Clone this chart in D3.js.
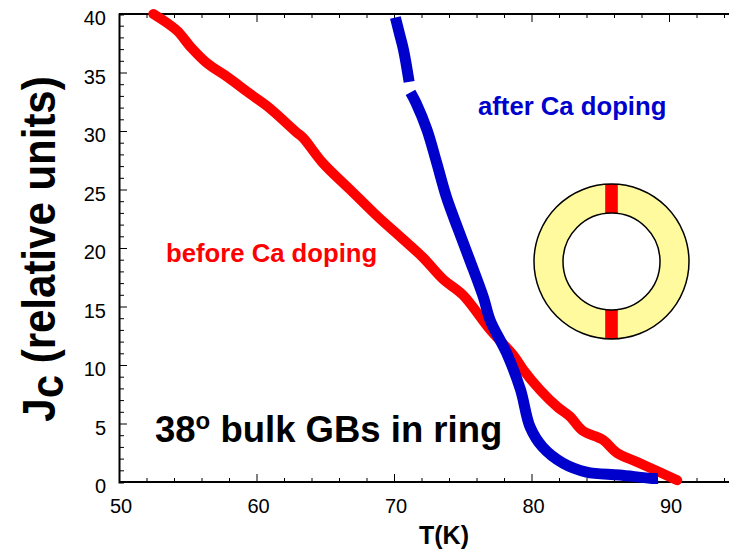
<!DOCTYPE html>
<html>
<head>
<meta charset="utf-8">
<script src="https://cdn.jsdelivr.net/npm/d3@7"></script>
<style>
  html, body { margin: 0; padding: 0; background: #fff; }
  svg { display: block; font-family: "Liberation Sans", Arial, sans-serif; }
</style>
</head>
<body>
<svg id="chart" width="729" height="551"></svg>
<script>
// Critical current density vs temperature for a ring with 38° bulk grain boundaries
const beforeT = [52.5, 54.2, 55.2, 56.4, 57.9, 59.5, 60.8, 62.9, 63.4, 64.8, 66.8, 68.8, 70.7, 72.1, 73.6, 75.0, 77.0, 78.7, 79.4, 80.6, 81.9, 82.8, 83.7, 85.2, 86.2, 87.7, 89.3, 90.6];
const beforeJ = [40.0, 38.6, 37.2, 35.8, 34.6, 33.2, 32.1, 29.9, 29.4, 27.3, 25.0, 22.7, 20.7, 19.2, 17.3, 16.0, 13.0, 10.8, 9.6, 7.9, 6.4, 5.6, 4.4, 3.6, 2.5, 1.7, 0.85, 0.15];

// after doping: measured in two runs, with a short gap near 34
const afterT1 = [70.1, 70.4, 70.7, 71.1];
const afterJ1 = [39.7, 38.3, 36.9, 34.2];
const afterT2 = [71.2, 71.6, 72.4, 73.1, 73.8, 74.6, 75.5, 76.5, 77.0, 78.2, 79.2, 79.9, 80.8, 82.3, 84.0, 86.4, 88.8, 89.2];
const afterJ2 = [33.3, 32.4, 30.1, 27.3, 24.4, 21.8, 19.0, 15.8, 13.8, 11.0, 7.9, 4.7, 3.0, 1.6, 0.85, 0.6, 0.3, 0.3];

const xMajor = [50, 60, 70, 80, 90];
const yMajor = [0, 5, 10, 15, 20, 25, 30, 35, 40];

const svg = d3.select("#chart");
const padLeft = 119, padTop = 14, axisBottomY = 482;
const x = d3.scaleLinear().domain([50, 95]).range([padLeft, padLeft + 45 * 13.75]);
const y = d3.scaleLinear().domain([0, 40]).range([axisBottomY, padTop]);

// axes: ticks point into the plot
const xAxisB = d3.axisBottom(x).tickValues(d3.range(50, 96, 2)).tickSize(-4).tickFormat(() => "");
const xAxisT = d3.axisTop(x).tickValues(d3.range(50, 96, 2)).tickSize(-4).tickFormat(() => "");
const yAxis = d3.axisLeft(y).tickValues(d3.range(0, 41, 1)).tickSize(-5).tickFormat(() => "");

function styleAxis(g) {
  g.select(".domain").attr("stroke", "#000").attr("stroke-width", 2);
  g.selectAll(".tick line").attr("stroke", "#000").attr("stroke-width", 1);
}
const gB = svg.append("g").attr("transform", `translate(0,${axisBottomY})`).call(xAxisB).call(styleAxis);
gB.selectAll(".tick line").filter(d => d % 10 === 0).attr("y2", -8);
const gT = svg.append("g").attr("transform", `translate(0,${padTop})`).call(xAxisT).call(styleAxis);
gT.selectAll(".tick line").filter(d => d % 10 === 0).attr("y2", 8);
const gL = svg.append("g").attr("transform", `translate(${padLeft},0)`).call(yAxis).call(styleAxis);
gL.selectAll(".tick line").filter(d => d % 5 === 0).attr("x2", 8);
gB.select(".domain").attr("d", `M${padLeft},0H729`);
gT.select(".domain").attr("d", `M${padLeft},0H729`);

// tick labels
svg.append("g").selectAll("text").data(xMajor).join("text")
  .attr("x", d => x(d) + 2).attr("y", axisBottomY + 31)
  .attr("text-anchor", "middle").attr("font-size", 20).text(d => d);
svg.append("g").selectAll("text").data(yMajor).join("text")
  .attr("x", 106).attr("y", d => y(d) + 11)
  .attr("text-anchor", "end").attr("font-size", 20).text(d => d);

// axis titles
svg.append("text").attr("x", 444).attr("y", 544)
  .attr("text-anchor", "middle").attr("font-size", 25).attr("font-weight", "bold").text("T(K)");
const yt = svg.append("text").attr("transform", `translate(55,249) rotate(-90) scale(1,1.08)`)
  .attr("text-anchor", "middle").attr("font-weight", "bold").attr("font-size", 42);
yt.append("tspan").text("J");
yt.append("tspan").attr("dy", 7).text("c");
yt.append("tspan").attr("dy", -7).text(" (relative units)");

// curves
const line = d3.line().x(d => x(d[0])).y(d => y(d[1])).curve(d3.curveCatmullRom.alpha(0.5));
svg.append("path").datum(beforeT.map((t, i) => [t, beforeJ[i]]))
  .attr("d", line).attr("fill", "none").attr("stroke", "#ff0000")
  .attr("stroke-width", 10).attr("stroke-linejoin", "round").attr("stroke-linecap", "round");
[[afterT1, afterJ1], [afterT2, afterJ2]].forEach(([ts, js]) => {
  svg.append("path").datum(ts.map((t, i) => [t, js[i]]))
    .attr("d", line).attr("fill", "none").attr("stroke", "#0000cc")
    .attr("stroke-width", 11).attr("stroke-linejoin", "round").attr("stroke-linecap", "butt");
});

// labels
svg.append("text").attr("x", 166).attr("y", 262).attr("fill", "#ff0000")
  .attr("font-size", 25.7).attr("font-weight", "bold").text("before Ca doping");
svg.append("text").attr("x", 478).attr("y", 115).attr("fill", "#0000cc")
  .attr("font-size", 25.7).attr("font-weight", "bold").text("after Ca doping");
const ttl = svg.append("text").attr("x", 155).attr("y", 442)
  .attr("font-size", 36.5).attr("font-weight", "bold");
ttl.append("tspan").text("38");
ttl.append("tspan").attr("font-size", 24).attr("dy", -13).text("o");
ttl.append("tspan").attr("dy", 13).text(" bulk GBs in ring");

// ring with two grain boundaries
const cx = 611.5, cy = 261.5, rO = 77.5, rI = 48.5;
const ring = svg.append("g");
ring.append("path")
  .attr("d", d3.arc().innerRadius(rI).outerRadius(rO).startAngle(0).endAngle(2 * Math.PI)())
  .attr("transform", `translate(${cx},${cy})`).attr("fill", "#fffa9e");
[[-rO, -rI], [rI, rO]].forEach(([a, b]) => {
  ring.append("rect").attr("x", cx - 6.3).attr("y", cy + a).attr("width", 12.6).attr("height", b - a)
    .attr("fill", "#ff0000");
});
ring.append("circle").attr("cx", cx).attr("cy", cy).attr("r", rO).attr("fill", "none").attr("stroke", "#000").attr("stroke-width", 1.5);
ring.append("circle").attr("cx", cx).attr("cy", cy).attr("r", rI).attr("fill", "none").attr("stroke", "#000").attr("stroke-width", 1.5);
</script>
</body>
</html>
